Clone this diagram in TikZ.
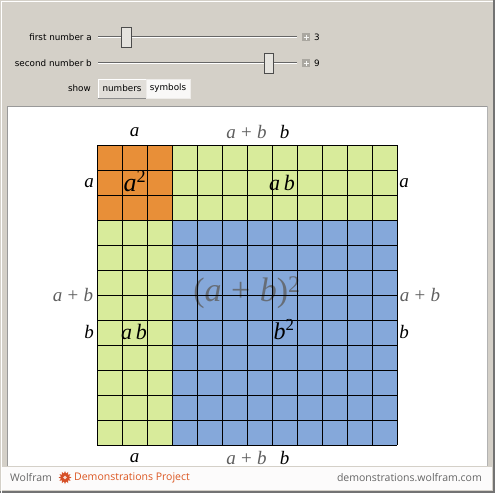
\documentclass[tikz,border=0pt]{standalone}
\usepackage{amsmath,amssymb}
\usepackage{fontspec}
\setsansfont{DejaVu Sans}
\newfontfamily\footfont{Open Sans}
\newfontfamily\labfont{Liberation Serif}
\usetikzlibrary{shapes.geometric}

\definecolor{panelgray}{RGB}{212,208,200}
\definecolor{sqorange}{RGB}{232,143,56}
\definecolor{sqgreen}{RGB}{216,235,155}
\definecolor{sqblue}{RGB}{133,168,218}
\definecolor{labgray}{RGB}{95,95,95}
\definecolor{wolfred}{RGB}{214,80,40}

\newcommand{\iv}[1]{\textit{#1}}
\newcommand{\pl}{\hspace{0.28em}+\hspace{0.28em}}

\tikzset{
  uitext/.style={font=\sffamily\fontsize{8.8}{10}\selectfont, inner sep=0pt},
  lab/.style={font=\labfont\fontsize{19}{21}\selectfont, inner sep=0pt},
  thumb/.style={fill=panelgray!60!white, draw=black!70, line width=0.8pt},
  btn/.style={fill=panelgray!70!white, draw=white, line width=0.8pt}
}

\begin{document}
\begin{tikzpicture}[x=1pt,y=-1pt]
            \useasboundingbox (0,0) rectangle (495,493);
            % window
            \fill [panelgray] (0,0) rectangle (495,493);
            \draw [black!55, line width=1.5pt] (494,0) -- (494,492) -- (0,492);
            \draw [white, line width=1pt] (1,493) -- (1,1) -- (493,1);
            % controls
            \node [uitext, anchor=east] (la) at (92,37) {first number a};
            \node [uitext, anchor=east] (lb) at (92,63) {second number b};
            \node [uitext, anchor=east] (ls) at (91,88) {show};
            \foreach \y in {37,63} {
                \draw [black!60, line width=1.2pt] (98,\y-0.6) -- (297,\y-0.6);
                \draw [white, line width=0.8pt] (98,\y+0.8) -- (297,\y+0.8);
                \fill [panelgray!80!black] (302,\y-4) rectangle (310,\y+4);
                \draw [white!80!panelgray, line width=1pt] (306,\y-2.5) -- (306,\y+2.5) (303.5,\y) -- (308.5,\y);
            }
            \draw [thumb] (121,27) rectangle (131,47);
            \draw [thumb] (264,53) rectangle (273,73);
            \node [uitext, anchor=west] (va) at (314,37) {3};
            \node [uitext, anchor=west] (vb) at (314,63) {9};
            \draw [btn] (98,79) rectangle (146,98);
            \draw [black!45, line width=0.8pt] (98,98) -- (146,98) -- (146,79);
            \draw [fill=white!85!panelgray, draw=white!60!panelgray, line width=0.8pt] (146,79) rectangle (190,98);
            \node [uitext] (bn) at (122,88.5) {numbers};
            \node [uitext] (bs) at (168,88.5) {symbols};
            % content panel
            \fill [white] (7,106) rectangle (487,466);
            \draw [black!40, line width=0.8pt] (7,466) -- (7,106) -- (487,106);
            \draw [black!30, line width=0.8pt] (487,106) -- (487,466);
            \fill [white!92!panelgray] (2,467) rectangle (492,490);
            % squares
            \def\cs{25}
            \def\ox{97.2}
            \def\oy{145.2}
            \fill [sqorange] (\ox,\oy) rectangle (\ox+3*\cs,\oy+3*\cs);
            \fill [sqgreen] (\ox+3*\cs,\oy) rectangle (\ox+12*\cs,\oy+3*\cs);
            \fill [sqgreen] (\ox,\oy+3*\cs) rectangle (\ox+3*\cs,\oy+12*\cs);
            \fill [sqblue] (\ox+3*\cs,\oy+3*\cs) rectangle (\ox+12*\cs,\oy+12*\cs);
            \node [lab, labgray, opacity=0.8, font=\labfont\fontsize{34}{36}\selectfont] (absq) at (247,293) {(\iv{a}\pl\iv{b})\textsuperscript{2}};
            \foreach \i in {0,...,12} {
                \draw [line width=1.3pt] (\ox+\i*\cs,\oy) -- (\ox+\i*\cs,\oy+12*\cs);
                \draw [line width=1.3pt] (\ox,\oy+\i*\cs) -- (\ox+12*\cs,\oy+\i*\cs);
            }
            % labels
            \node [lab] (ta) at (134.5,132) {\iv{a}};
            \node [lab, labgray] (tab) at (246.5,132) {\iv{a}\pl\iv{b}};
            \node [lab] (tb) at (284.5,132) {\iv{b}};
            \node [lab] (ba) at (134.5,458) {\iv{a}};
            \node [lab, labgray] (bab) at (246.5,458) {\iv{a}\pl\iv{b}};
            \node [lab] (bb) at (284.5,458) {\iv{b}};
            \node [lab] (lfa) at (89,183) {\iv{a}};
            \node [lab, labgray] (lfab) at (73,295) {\iv{a}\pl\iv{b}};
            \node [lab] (lfb) at (89,332) {\iv{b}};
            \node [lab] (rta) at (404,183) {\iv{a}};
            \node [lab, labgray] (rtab) at (420,295) {\iv{a}\pl\iv{b}};
            \node [lab] (rtb) at (404,332) {\iv{b}};
            \node [lab, font=\labfont\fontsize{26}{28}\selectfont] (asq) at (135,181) {\iv{a}\textsuperscript{2}};
            \node [lab, font=\labfont\fontsize{22}{24}\selectfont] (ab1) at (282,183) {\iv{a}\,\iv{b}};
            \node [lab, font=\labfont\fontsize{22}{24}\selectfont] (ab2) at (134,332) {\iv{a}\,\iv{b}};
            \node [lab, font=\labfont\fontsize{24}{26}\selectfont] (bsq) at (284,330) {\iv{b}\textsuperscript{2}};
            % footer
            \node [font=\footfont\fontsize{10.5}{12}\selectfont, black!60, inner sep=0pt, anchor=west] (wf) at (10,478) {Wolfram};
            \node [star, star points=12, star point ratio=1.6, fill=wolfred, minimum size=13pt, inner sep=0pt] (spk) at (65,477.5) {};
            \fill [white!80!wolfred] (spk) circle [radius=1.8pt];
            \node [font=\footfont\fontsize{10.5}{12}\selectfont, wolfred!85!orange, inner sep=0pt, anchor=west] (dp) at (74,478) {Demonstrations Project};
            \node [font=\footfont\fontsize{10.5}{12}\selectfont, black!60, inner sep=0pt, anchor=east] (url) at (482,478) {demonstrations.wolfram.com};
        \end{tikzpicture}
\end{document}
